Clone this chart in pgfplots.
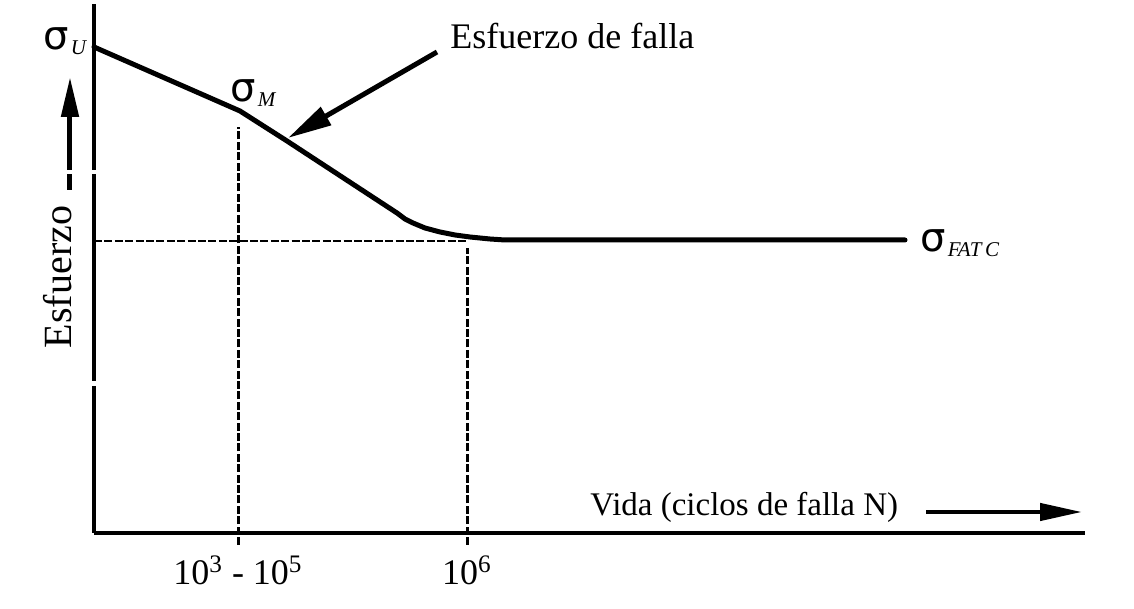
\documentclass[border=0pt]{standalone}
\usepackage{fontspec}
\setmainfont{Liberation Serif}
\newfontfamily\sig{DejaVu Sans}
\usepackage{pgfplots}
\pgfplotsset{compat=1.18}
\usetikzlibrary{arrows.meta}

% sigma with a small italic subscript
\newcommand{\sigsub}[1]{{\fontsize{20}{20}\sig σ}\hspace{1pt}\raisebox{-2.5pt}{\fontsize{10.5}{10.5}\selectfont\itshape #1}}

\begin{document}
\begin{tikzpicture}
    \begin{axis}[
        width=495.5pt, height=264.5pt, scale only axis,
        xmin=0, xmax=991, ymin=0, ymax=529,
        axis lines=left,
        axis line style={line width=1.6pt, -},
        xtick={144,373},
        xticklabels={10\textsuperscript{3} - 10\textsuperscript{5}, 10\textsuperscript{6}},
        ytick=\empty,
        major tick length=0pt,
        xticklabel style={font=\fontsize{18}{18}\selectfont, anchor=base, yshift=-26pt},
        clip=false,
        ]
    % S-N curve
    \addplot[line width=2.5pt, line join=round, line cap=round]
    coordinates {
        (0,486) (146,422) (193,392) (303,320) (311,314) (319,310)
        (331,305) (346,301) (361,298) (376,296) (396,294) (411,293)
        (811,293)
        };
    % guide lines
    \addplot[line width=1.5pt, dash pattern=on 4pt off 1.2pt]
        coordinates {(144,-12) (144,406)};
    \addplot[line width=1.5pt, dash pattern=on 4pt off 1.2pt]
        coordinates {(373,-12) (373,285)};
    \addplot[line width=1.4pt, dash pattern=on 4pt off 1.2pt]
        coordinates {(0,292) (373,292)};

    % labels
    \node[anchor=base west, inner sep=0] at (axis cs:-51,483) {\sigsub{U}};
    \node[anchor=base west, inner sep=0] at (axis cs:136,431) {\sigsub{M}};
    \node[anchor=base west, inner sep=0] at (axis cs:826,281) {\sigsub{FAT\,C}};
    \node[anchor=base west, inner sep=0, font=\fontsize{18}{18}\selectfont]
        at (axis cs:356,484) {Esfuerzo de falla};
    \node[anchor=base west, inner sep=0, font=\fontsize{16.5}{16.5}\selectfont]
        at (axis cs:496,17) {Vida (ciclos de falla N)};
    \node[rotate=90, anchor=base, inner sep=0, font=\fontsize{20}{20}\selectfont]
        at (axis cs:-22,256) {Esfuerzo};

    % arrows
    \draw[line width=2.5pt, -{Triangle[length=20pt,width=8.5pt]}]
        (axis cs:-24,363) -- (axis cs:-24,456);
    \draw[line width=2.5pt] (axis cs:-24,343) -- (axis cs:-24,359);
    \draw[line width=2.2pt, -{Triangle[length=21pt,width=8.5pt]}]
        (axis cs:832,21) -- (axis cs:988,21);
    \draw[line width=2.5pt, -{Triangle[length=22pt,width=10pt]}]
        (axis cs:343,481) -- (axis cs:194,395);

    % breaks in the y axis and picture frame
    \coordinate (g1) at (axis cs:-4,359);
    \coordinate (g2) at (axis cs:4,363);
    \coordinate (g3) at (axis cs:-4,147);
    \coordinate (g4) at (axis cs:4,152);
    \coordinate (bl) at (axis cs:-94,-76);
    \coordinate (tr) at (axis cs:1040,533);
    \end{axis}
    \fill[white] (g1) rectangle (g2);
    \fill[white] (g3) rectangle (g4);
    \path (bl) rectangle (tr);
\end{tikzpicture}
\end{document}
